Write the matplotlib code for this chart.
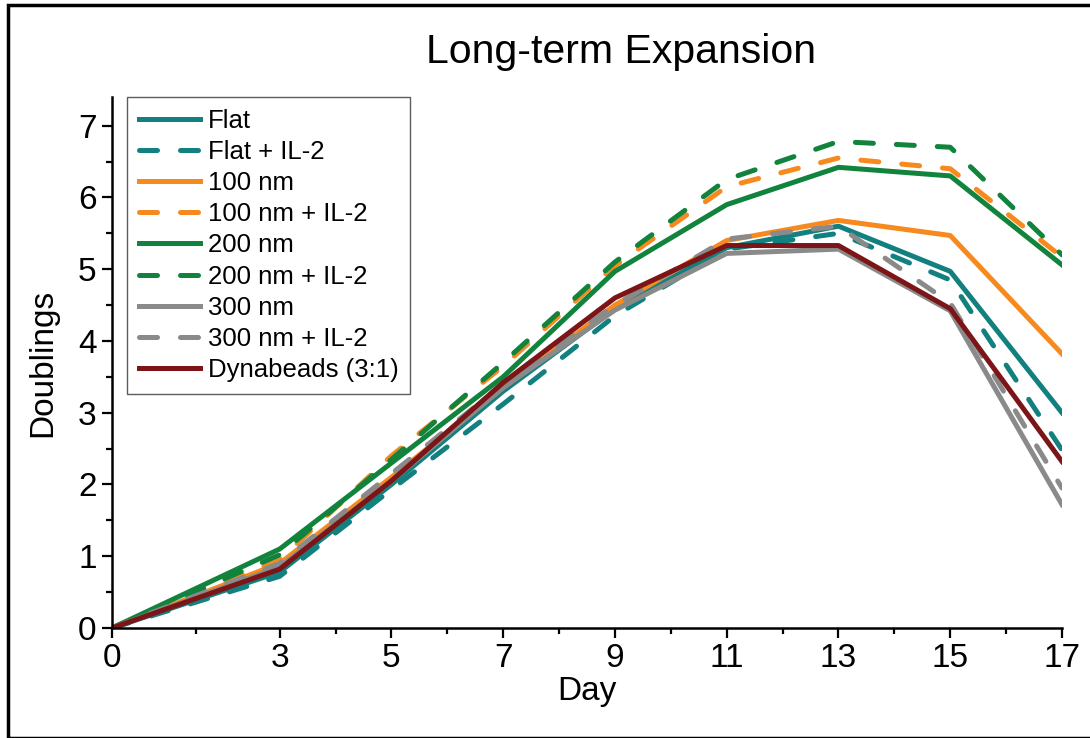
import numpy as np
import matplotlib
matplotlib.use('Agg')
import matplotlib.pyplot as plt
from matplotlib.patches import Rectangle

plt.rcParams['font.family'] = ['Liberation Sans', 'DejaVu Sans']

# =============================================================================
# Data
# =============================================================================
days = [0, 3, 5, 7, 9, 11, 13, 15, 17]

flat          = [0, 0.78, 2.00, 3.30, 4.45, 5.30, 5.60, 4.97, 3.00]
flat_il2      = [0, 0.72, 1.93, 3.12, 4.35, 5.28, 5.50, 4.85, 2.48]
nm100         = [0, 0.90, 2.10, 3.35, 4.50, 5.40, 5.68, 5.47, 3.82]
nm100_il2     = [0, 0.95, 2.40, 3.65, 5.05, 6.15, 6.55, 6.40, 5.17]
nm200         = [0, 1.10, 2.30, 3.50, 4.97, 5.90, 6.42, 6.30, 5.06]
nm200_il2     = [0, 1.02, 2.35, 3.70, 5.10, 6.25, 6.78, 6.70, 5.20]
nm300         = [0, 0.85, 2.05, 3.35, 4.43, 5.22, 5.28, 4.42, 1.72]
nm300_il2     = [0, 0.90, 2.15, 3.40, 4.50, 5.42, 5.60, 4.53, 1.95]
dynabeads     = [0, 0.82, 2.05, 3.42, 4.60, 5.33, 5.33, 4.45, 2.32]

labels = ['Flat', 'Flat + IL-2', '100 nm', '100 nm + IL-2', '200 nm',
          '200 nm + IL-2', '300 nm', '300 nm + IL-2', 'Dynabeads (3:1)']
series = [flat, flat_il2, nm100, nm100_il2, nm200, nm200_il2,
          nm300, nm300_il2, dynabeads]

x_major = [0, 3, 5, 7, 9, 11, 13, 15, 17]
x_minor = [1.5, 4, 6, 8, 10, 12, 14, 16]

# styles
teal = '#12807e'
orange = '#f68a1f'
green = '#12833c'
gray = '#8a8a8a'
darkred = '#7c1517'
colors = [teal, teal, orange, orange, green, green, gray, gray, darkred]
dashed = [False, True, False, True, False, True, False, True, False]

# =============================================================================
# Plot
# =============================================================================
fig = plt.figure(figsize=(10.9, 7.38), dpi=100)
ax = fig.add_axes([112/1090, 1-628/738, 950/1090, 531/738])

for y, lab, c, d in zip(series, labels, colors, dashed):
    if d:
        ax.plot(days, y, color=c, lw=3.6, label=lab, dashes=(3.6, 4.6),
                dash_capstyle='round', solid_joinstyle='round')
    else:
        ax.plot(days, y, color=c, lw=3.6, label=lab, solid_joinstyle='round')

ax.set_xlim(0, 17)
ax.set_ylim(0, 7.4)
ax.set_xticks(x_major)
ax.set_xticks(x_minor, minor=True)
ax.set_yticks(range(0, 8))
ax.set_yticks(np.arange(0.5, 7.5, 1.0), minor=True)

for s in ['top', 'right']:
    ax.spines[s].set_visible(False)
for s in ['left', 'bottom']:
    ax.spines[s].set_linewidth(1.8)

ax.tick_params(which='major', length=7, width=1.6, labelsize=24, pad=4)
ax.tick_params(which='minor', length=4.5, width=1.6)

ax.set_xlabel('Day', fontsize=24, labelpad=1)
ax.set_ylabel('Doublings', fontsize=24, labelpad=14)
fig.text(0.57, 1-52/738, 'Long-term Expansion', fontsize=29.5,
         ha='center', va='center')

leg = ax.legend(loc='upper left', bbox_to_anchor=(15/950, 1.0), fontsize=18.5,
                frameon=True, fancybox=False, handlelength=2.4,
                handletextpad=0.3, borderpad=0.45, labelspacing=0.28,
                borderaxespad=0)
leg.get_frame().set_edgecolor('#333333')
leg.get_frame().set_linewidth(1.0)

# outer border
fig.add_artist(Rectangle((8/1090, 0.0), 1.0, 1-5/738, transform=fig.transFigure,
                         fill=False, edgecolor='black', lw=2.5, clip_on=False))

fig.savefig('out.png', dpi=100)
